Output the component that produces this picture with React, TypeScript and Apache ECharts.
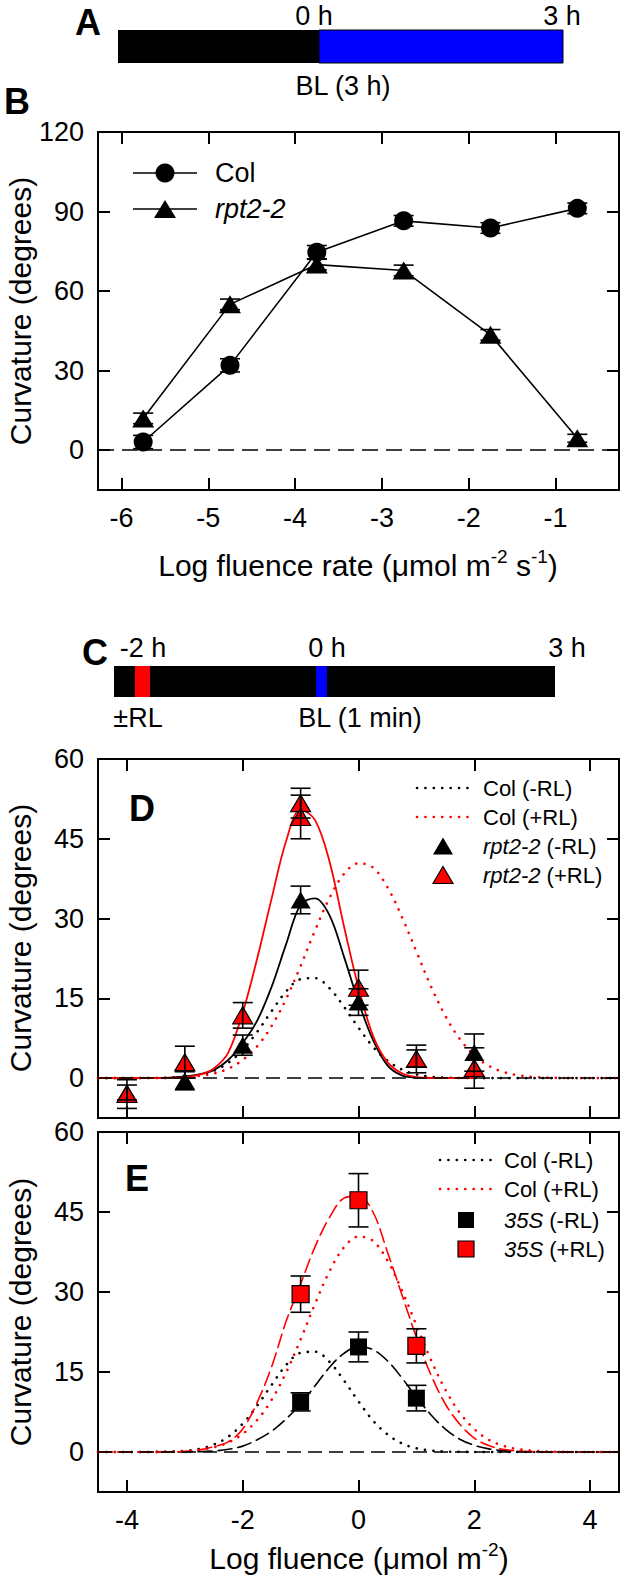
import React, { useEffect, useRef } from 'react';
import * as echarts from 'echarts';

const FONT = '"Liberation Sans", Arial, Helvetica, sans-serif';
const RED = '#FF0000';
const BLUE = '#0000FF';
const LABEL_SIZE = 27;
const TITLE_SIZE = 30;

// ---------- Panel B ----------
const B_X = [-5.75, -4.75, -3.75, -2.75, -1.75, -0.75];
const B_COL = [3.1, 32, 74.7, 86.5, 83.8, 91.2];
const B_COL_ERR = [2.5, 2.5, 2.5, 2, 2, 2];
const B_RPT = [12, 55, 70, 67.8, 43.5, 4.5];
const B_RPT_ERR = [2, 2, 2, 2, 2, 1.5];
const B_X_TICKS = [-6, -5, -4, -3, -2, -1];
const B_Y_TICKS = [0, 30, 60, 90, 120];

// ---------- Panel D ----------
const D_X_NEG = [-4, -3, -2, -1, 0, 1, 2];
const D_RPT_NEG = [-2.7, -0.5, 6.2, 33.5, 14.3, 3.7, 4.8];
const D_RPT_NEG_ERR = [1.4, 1.7, 1.9, 2.6, 2.5, 1.6, 3.5];
const D_X_POS = [-4, -3, -2, -1, -1, 0, 1, 2];
const D_RPT_POS = [-3, 3, 11.8, 51.7, 49.1, 17, 3.6, 1.9];
const D_RPT_POS_ERR = [2.7, 3, 2.4, 2.8, 4.1, 3.3, 2.6, 3.8];

// ---------- Panel E ----------
const E_X = [-1, 0, 1];
const E_35S_NEG = [9.4, 19.7, 10.1];
const E_35S_NEG_ERR = [1.7, 2.8, 2.4];
const E_35S_POS = [29.6, 47.2, 19.9];
const E_35S_POS_ERR = [3.4, 5, 3.2];

const DE_X_TICKS = [-4, -2, 0, 2, 4];
const DE_Y_TICKS = [0, 15, 30, 45, 60];

// ---------- fitted curves, read every 0.25 log units ----------
const CURVE_X = [
  -4.5, -4.25, -4, -3.75, -3.5, -3.25, -3, -2.75, -2.5, -2.25, -2, -1.75, -1.5,
  -1.25, -1, -0.75, -0.5, -0.25, 0, 0.25, 0.5, 0.75, 1, 1.25, 1.5, 1.75, 2,
  2.25, 2.5, 2.75, 3, 3.25, 3.5, 3.75, 4, 4.25, 4.5,
];
const FIT_COL_NEG = [
  0, 0, 0, 0.01, 0.02, 0.07, 0.22, 0.59, 1.37, 2.87, 5.3, 8.7, 12.6,
  16.3, 18.6, 18.8, 16.9, 13.4, 9.5, 5.9, 3.3, 1.6, 0.7, 0.27, 0.09, 0.03, 0.01,
  0, 0, 0, 0, 0, 0, 0, 0, 0, 0,
];
const FIT_COL_POS = [
  0, 0, 0, 0.01, 0.02, 0.07, 0.17, 0.4, 0.87, 1.78, 3.4, 6.0, 9.8,
  14.9, 21.1, 27.8, 33.9, 38.4, 40.4, 39.6, 35.9, 30.3, 23.8, 17.3, 11.7, 7.35, 4.3,
  2.3, 1.17, 0.55, 0.24, 0.1, 0.03, 0, 0, 0, 0,
];
const FIT_RPT_NEG = [
  0, 0, 0, 0, 0.02, 0.1, 0.3, 0.7, 1.5, 3.4, 6.6, 10.8, 17.2,
  25.2, 32.6, 33.8, 30.6, 22.8, 14.3, 7.2, 2.4, 0.5, 0.1, 0.02, 0, 0, 0,
  null, null, null, null, null, null, null, null, null, null,
];
const FIT_RPT_POS = [
  0, 0, 0, 0, 0, 0.05, 0.2, 0.6, 1.8, 4.8, 12.3, 22.5, 33.8,
  44.6, 50.5, 48.5, 40.7, 28.5, 17, 8, 3, 0.9, 0.2, 0.05, 0, 0, 0,
  null, null, null, null, null, null, null, null, null, null,
];
const FIT_35S_NEG = [
  0, 0, 0, 0, 0, 0, 0.02, 0.07, 0.2, 0.5, 1.1, 2.3, 3.9,
  6.2, 9.0, 12.4, 15.9, 18.5, 19.75, 19.2, 17.1, 13.9, 10.3, 7.0, 4.3, 2.4, 1.26,
  0.59, 0.25, 0.1, 0.04, 0, 0, 0, 0, 0, 0,
];
const FIT_35S_POS = [
  0, 0, 0, 0, 0, 0, 0.15, 0.4, 1.0, 1.9, 4.3, 9.3, 16,
  24.5, 31.5, 38.5, 44, 47.6, 48, 45, 37.5, 29.5, 21.5, 14.5, 9, 5.2, 2.6,
  1.2, 0.5, 0.2, 0.07, 0, 0, 0, 0, 0, 0,
];

const DOTS = [0.1, 8.3];
const LONGDASH = [14, 6];
const ZERODASH = [14, 7];

function xAxes(gridIndex: number, min: number, max: number, ticks: number[], showLabels: boolean) {
  const line = { show: true, onZero: false, lineStyle: { color: '#000', width: 2 } };
  const tick = { show: true, inside: true, length: 12, customValues: ticks, lineStyle: { color: '#000', width: 2 } };
  return [
    {
      type: 'value', gridIndex, position: 'bottom', min, max,
      axisLine: line, axisTick: tick, splitLine: { show: false },
      axisLabel: { show: showLabels, customValues: ticks, color: '#000', fontSize: LABEL_SIZE, fontFamily: FONT, margin: 14 },
    },
    {
      type: 'value', gridIndex, position: 'top', min, max,
      axisLine: line, axisTick: tick, splitLine: { show: false }, axisLabel: { show: false },
    },
  ];
}

function yAxes(gridIndex: number, min: number, max: number, ticks: number[]) {
  const line = { show: true, onZero: false, lineStyle: { color: '#000', width: 2 } };
  const tick = { show: true, inside: true, length: 12, customValues: ticks, lineStyle: { color: '#000', width: 2 } };
  return [
    {
      type: 'value', gridIndex, position: 'left', min, max,
      axisLine: line, axisTick: tick, splitLine: { show: false },
      axisLabel: { show: true, customValues: ticks, color: '#000', fontSize: LABEL_SIZE, fontFamily: FONT, margin: 14 },
    },
    {
      type: 'value', gridIndex, position: 'right', min, max,
      axisLine: line, axisTick: tick, splitLine: { show: false }, axisLabel: { show: false },
    },
  ];
}

function errorBars(axis: number, xs: number[], vs: number[], es: number[], z: number) {
  return {
    type: 'custom', xAxisIndex: axis, yAxisIndex: axis, z, silent: true,
    data: xs.map((x, i) => [x, vs[i] - es[i], vs[i] + es[i]]),
    encode: { x: 0, y: [1, 2] },
    renderItem: (_p: any, api: any) => {
      const x = api.value(0);
      const lo = api.coord([x, api.value(1)]);
      const hi = api.coord([x, api.value(2)]);
      const h = 10;
      const st = { stroke: '#000', lineWidth: 1.6 };
      return {
        type: 'group',
        children: [
          { type: 'line', shape: { x1: lo[0], y1: lo[1], x2: hi[0], y2: hi[1] }, style: st },
          { type: 'line', shape: { x1: lo[0] - h, y1: lo[1], x2: lo[0] + h, y2: lo[1] }, style: st },
          { type: 'line', shape: { x1: hi[0] - h, y1: hi[1], x2: hi[0] + h, y2: hi[1] }, style: st },
        ],
      };
    },
  };
}

function curve(axis: number, ys: (number | null)[], color: string, type: any, width: number, z: number, extra: any = {}) {
  return {
    type: 'line', xAxisIndex: axis, yAxisIndex: axis, z, silent: true,
    data: CURVE_X.map((x, i) => [x, ys[i]]).filter((d) => d[1] !== null),
    smooth: 0.35, symbol: 'none',
    lineStyle: { color, width, type, cap: 'round' },
    ...extra,
  };
}

function zeroLine(dash: number[]) {
  return {
    markLine: {
      silent: true, symbol: ['none', 'none'], label: { show: false }, animation: false,
      lineStyle: { color: '#000', width: 1.6, type: dash },
      data: [{ yAxis: 0 }],
    },
  };
}

function scatter(axis: number, xs: number[], vs: number[], symbol: string, size: any, fill: string, border: boolean, z: number) {
  return {
    type: 'scatter', xAxisIndex: axis, yAxisIndex: axis, z, silent: true,
    data: xs.map((x, i) => [x, vs[i]]),
    symbol, symbolSize: size,
    itemStyle: { color: fill, borderColor: '#000', borderWidth: border ? 1.2 : 0, opacity: 1 },
  };
}

function txt(text: string, x: number, y: number, extra: any = {}, align = 'center') {
  return {
    type: 'text', x, y, silent: true, z: 100,
    style: {
      text, fill: '#000', fontSize: LABEL_SIZE, fontFamily: FONT,
      textAlign: align, textVerticalAlign: 'middle', align, verticalAlign: 'middle',
      ...extra,
    },
  };
}

function yTitle(y: number) {
  return {
    type: 'text', x: 20, y, rotation: Math.PI / 2, silent: true, z: 100,
    style: {
      text: 'Curvature (degrees)', fill: '#000', fontSize: TITLE_SIZE, fontFamily: FONT,
      textAlign: 'center', textVerticalAlign: 'middle', align: 'center', verticalAlign: 'middle',
    },
  };
}

const RICH = {
  n: { fontSize: TITLE_SIZE, fontFamily: FONT, lineHeight: 36, fill: '#000', color: '#000' },
  s: { fontSize: 19, fontFamily: FONT, lineHeight: 14, verticalAlign: 'top', fill: '#000', color: '#000' },
  i: { fontSize: 22, fontFamily: FONT, fontStyle: 'italic', fill: '#000', color: '#000' },
  l: { fontSize: 22, fontFamily: FONT, fill: '#000', color: '#000' },
  bi: { fontSize: LABEL_SIZE, fontFamily: FONT, fontStyle: 'italic', fill: '#000', color: '#000' },
};

function dotLine(x1: number, x2: number, y: number, color: string) {
  return {
    type: 'line', silent: true, z: 100,
    shape: { x1, y1: y, x2, y2: y },
    style: { stroke: color, lineWidth: 2.6, lineDash: DOTS, lineCap: 'round' },
  };
}

function tri(cx: number, cy: number, w: number, h: number, fill: string, border: boolean) {
  return {
    type: 'polygon', silent: true, z: 100,
    shape: { points: [[cx, cy - h / 2], [cx + w / 2, cy + h / 2], [cx - w / 2, cy + h / 2]] },
    style: { fill, stroke: border ? '#000' : fill, lineWidth: border ? 1.2 : 0 },
  };
}

function sq(cx: number, cy: number, fill: string, border: boolean) {
  return {
    type: 'rect', silent: true, z: 100,
    shape: { x: cx - 8, y: cy - 8, width: 16, height: 16 },
    style: { fill, stroke: border ? '#000' : fill, lineWidth: border ? 1.2 : 0 },
  };
}

function buildOption() {
  const graphics: any[] = [
    // Panel A
    txt('A', 88, 22, { fontSize: 36, fontWeight: 'bold' }),
    { type: 'rect', silent: true, shape: { x: 118, y: 30, width: 201, height: 33 }, style: { fill: '#000' } },
    { type: 'rect', silent: true, shape: { x: 319, y: 30, width: 244, height: 33 }, style: { fill: BLUE, stroke: '#000', lineWidth: 1 } },
    txt('0 h', 314, 16),
    txt('3 h', 562, 16),
    txt('BL (3 h)', 343, 86),
    // Panel B
    txt('B', 17, 101, { fontSize: 36, fontWeight: 'bold' }),
    { type: 'line', silent: true, z: 100, shape: { x1: 133, y1: 173, x2: 197, y2: 173 }, style: { stroke: '#000', lineWidth: 1.6 } },
    { type: 'circle', silent: true, z: 100, shape: { cx: 165, cy: 173, r: 9.5 }, style: { fill: '#000' } },
    txt('Col', 215, 173, {}, 'left'),
    { type: 'line', silent: true, z: 100, shape: { x1: 133, y1: 209, x2: 197, y2: 209 }, style: { stroke: '#000', lineWidth: 1.6 } },
    tri(165, 209, 22, 18, '#000', false),
    txt('{bi|rpt2-2}', 215, 209, { rich: RICH }, 'left'),
    yTitle(311),
    txt('{n|Log fluence rate (μmol m}{s|-2}{n| s}{s|-1}{n|)}', 358, 565, { rich: RICH }),
    // Panel C
    txt('C', 95, 652, { fontSize: 36, fontWeight: 'bold' }),
    { type: 'rect', silent: true, shape: { x: 114, y: 666, width: 441, height: 31 }, style: { fill: '#000' } },
    { type: 'rect', silent: true, shape: { x: 135, y: 666, width: 15, height: 31 }, style: { fill: RED } },
    { type: 'rect', silent: true, shape: { x: 316, y: 666, width: 11, height: 31 }, style: { fill: BLUE } },
    txt('-2 h', 143, 648),
    txt('0 h', 327, 648),
    txt('3 h', 567, 648),
    txt('±RL', 138, 718),
    txt('BL (1 min)', 360, 718),
    // Panel D
    txt('D', 142, 808, { fontSize: 36, fontWeight: 'bold' }),
    yTitle(938),
    dotLine(417, 471, 788, '#000'),
    txt('Col (-RL)', 483, 788, { fontSize: 22 }, 'left'),
    dotLine(417, 471, 817, RED),
    txt('Col (+RL)', 483, 817, { fontSize: 22 }, 'left'),
    tri(443, 846, 20, 17, '#000', false),
    txt('{i|rpt2-2}{l| (-RL)}', 483, 846, { rich: RICH }, 'left'),
    tri(443, 875, 20, 17, RED, true),
    txt('{i|rpt2-2}{l| (+RL)}', 483, 875, { rich: RICH }, 'left'),
    // Panel E
    txt('E', 137, 1178, { fontSize: 36, fontWeight: 'bold' }),
    yTitle(1312),
    dotLine(440, 492, 1160, '#000'),
    txt('Col (-RL)', 504, 1160, { fontSize: 22 }, 'left'),
    dotLine(440, 492, 1189, RED),
    txt('Col (+RL)', 504, 1189, { fontSize: 22 }, 'left'),
    sq(466, 1220, '#000', false),
    txt('{i|35S}{l| (-RL)}', 504, 1220, { rich: RICH }, 'left'),
    sq(466, 1249, RED, true),
    txt('{i|35S}{l| (+RL)}', 504, 1249, { rich: RICH }, 'left'),
    txt('{n|Log fluence (μmol m}{s|-2}{n|)}', 359, 1558, { rich: RICH }),
  ];

  const series: any[] = [
    // B
    {
      type: 'line', xAxisIndex: 0, yAxisIndex: 0, z: 3, silent: true,
      data: B_X.map((x, i) => [x, B_COL[i]]),
      symbol: 'circle', symbolSize: 19, itemStyle: { color: '#000' },
      lineStyle: { color: '#000', width: 1.6 },
      ...zeroLine([16, 8]),
    },
    {
      type: 'line', xAxisIndex: 0, yAxisIndex: 0, z: 3, silent: true,
      data: B_X.map((x, i) => [x, B_RPT[i]]),
      symbol: 'triangle', symbolSize: [22, 18], itemStyle: { color: '#000' },
      lineStyle: { color: '#000', width: 1.6 },
    },
    errorBars(0, B_X, B_COL, B_COL_ERR, 5),
    errorBars(0, B_X, B_RPT, B_RPT_ERR, 5),
    // D
    curve(2, FIT_COL_NEG, '#000', DOTS, 2.6, 2, zeroLine(ZERODASH)),
    curve(2, FIT_COL_POS, RED, DOTS, 2.6, 2),
    curve(2, FIT_RPT_NEG, '#000', 'solid', 1.8, 3),
    curve(2, FIT_RPT_POS, RED, 'solid', 1.8, 3),
    scatter(2, D_X_NEG, D_RPT_NEG, 'triangle', [20, 17], '#000', false, 4),
    scatter(2, D_X_POS, D_RPT_POS, 'triangle', [20, 17], RED, true, 5),
    errorBars(2, D_X_NEG, D_RPT_NEG, D_RPT_NEG_ERR, 6),
    errorBars(2, D_X_POS, D_RPT_POS, D_RPT_POS_ERR, 6),
    // E
    curve(4, FIT_COL_NEG, '#000', DOTS, 2.6, 2, zeroLine(ZERODASH)),
    curve(4, FIT_COL_POS, RED, DOTS, 2.6, 2),
    curve(4, FIT_35S_NEG, '#000', LONGDASH, 1.6, 3),
    curve(4, FIT_35S_POS, RED, LONGDASH, 1.6, 3),
    errorBars(4, E_X, E_35S_NEG, E_35S_NEG_ERR, 4),
    errorBars(4, E_X, E_35S_POS, E_35S_POS_ERR, 4),
    scatter(4, E_X, E_35S_NEG, 'rect', 17, '#000', false, 5),
    scatter(4, E_X, E_35S_POS, 'rect', 17, RED, true, 5),
  ];

  return {
    animation: false,
    backgroundColor: '#fff',
    textStyle: { fontFamily: FONT },
    grid: [
      { left: 98, top: 132, width: 521, height: 358 },
      { left: 98, top: 759, width: 521, height: 359 },
      { left: 98, top: 1132, width: 521, height: 360 },
    ],
    xAxis: [
      ...xAxes(0, -6.27, -0.27, B_X_TICKS, true),
      ...xAxes(1, -4.5, 4.5, DE_X_TICKS, false),
      ...xAxes(2, -4.5, 4.5, DE_X_TICKS, true),
    ],
    yAxis: [
      ...yAxes(0, -15, 120, B_Y_TICKS),
      ...yAxes(1, -7.5, 60, DE_Y_TICKS),
      ...yAxes(2, -7.5, 60, DE_Y_TICKS),
    ],
    series,
    graphic: { elements: graphics },
  };
}

export default function App() {
  const ref = useRef<HTMLDivElement>(null);
  useEffect(() => {
    if (!ref.current) return;
    const chart = echarts.init(ref.current, null, { renderer: 'svg' });
    chart.setOption(buildOption() as any);
    return () => chart.dispose();
  }, []);
  return (
    <div
      ref={ref}
      style={{ position: 'absolute', left: 0, top: 0, width: 622, height: 1582, background: '#fff' }}
    />
  );
}
